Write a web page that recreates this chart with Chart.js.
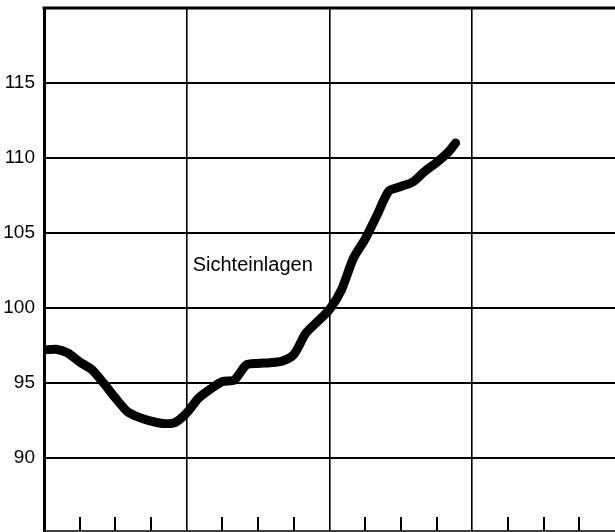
<!DOCTYPE html>
<html>
<head>
<meta charset="utf-8">
<script src="https://cdn.jsdelivr.net/npm/chart.js@4"></script>
<style>
html,body{margin:0;padding:0;background:#fff;}
#wrap{width:615px;height:532px;position:relative;}
</style>
</head>
<body>
<div id="wrap"><canvas id="c" width="615" height="532"></canvas></div>
<script>
// Monthly index (0 = first month of the first year shown)
const months = [0,1,2,3,4,5,6,7,8,9,10,11,12,13,14,15,16,17,18,19,20,21,22,23,24,25,26,27,28,29,30,31,32,33,34,34.6];
const sichteinlagen = [97.2,97.25,97.0,96.4,95.9,95.0,94.0,93.1,92.7,92.45,92.3,92.35,93.0,94.0,94.6,95.1,95.2,96.2,96.3,96.35,96.45,96.9,98.3,99.1,99.9,101.2,103.3,104.6,106.2,107.8,108.1,108.4,109.1,109.7,110.4,111.0];
const yTicks = [90,95,100,105,110,115];
const yearLines = [12,24,36];
const quarterTicks = [3,6,9,15,18,21,27,30,33,39,42,45];
const seriesLabel = 'Sichteinlagen';

const framePlugin = {
  id:'frame',
  afterDraw(chart){
    const {ctx, chartArea:a, scales} = chart;
    ctx.save();
    ctx.strokeStyle='#000';
    ctx.lineWidth=3;
    ctx.beginPath(); ctx.moveTo(a.left-1.5,a.top); ctx.lineTo(a.right,a.top); ctx.stroke();
    ctx.lineWidth=1.5;
    ctx.beginPath(); ctx.moveTo(a.left,a.bottom); ctx.lineTo(a.right,a.bottom); ctx.stroke();
    ctx.lineWidth=2;
    quarterTicks.forEach(m=>{
      const x=Math.round(scales.x.getPixelForValue(m));
      ctx.beginPath(); ctx.moveTo(x,a.bottom); ctx.lineTo(x,a.bottom-14); ctx.stroke();
    });
    ctx.fillStyle='#000';
    ctx.font='20px "Liberation Sans", Arial, sans-serif';
    ctx.textAlign='left';
    ctx.textBaseline='alphabetic';
    ctx.fillText(seriesLabel, scales.x.getPixelForValue(12.5), scales.y.getPixelForValue(102.5)+1);
    ctx.restore();
  }
};

new Chart(document.getElementById('c'),{
  type:'line',
  data:{
    datasets:[{
      label:seriesLabel,
      data:months.map((m,i)=>({x:m,y:sichteinlagen[i]})),
      borderColor:'#000',
      borderWidth:9,
      pointRadius:0,
      tension:0.25,
      borderCapStyle:'round',
      borderJoinStyle:'round',
      fill:false
    }]
  },
  options:{
    responsive:false,
    animation:false,
    devicePixelRatio:1,
    layout:{padding:{top:8,right:0,bottom:1,left:0}},
    plugins:{legend:{display:false},tooltip:{enabled:false}},
    scales:{
      x:{
        type:'linear',min:0,max:48,
        afterBuildTicks(s){s.ticks=yearLines.map(v=>({value:v}));},
        afterFit(s){s.height=0;s.paddingLeft=0;s.paddingRight=0;},
        ticks:{display:false},
        grid:{color:'#000',lineWidth:1.6,drawTicks:false},
        border:{display:false}
      },
      y:{
        min:85.13,max:120,
        afterBuildTicks(s){s.ticks=yTicks.map(v=>({value:v}));},
        afterFit(s){s.width=44;s.paddingTop=0;s.paddingBottom=0;},
        ticks:{color:'#000',font:{family:'"Liberation Sans", Arial, sans-serif',size:19},padding:9},
        grid:{color:'#000',lineWidth:2,drawTicks:false},
        border:{display:true,color:'#000',width:3}
      }
    }
  },
  plugins:[framePlugin]
});
</script>
</body>
</html>
